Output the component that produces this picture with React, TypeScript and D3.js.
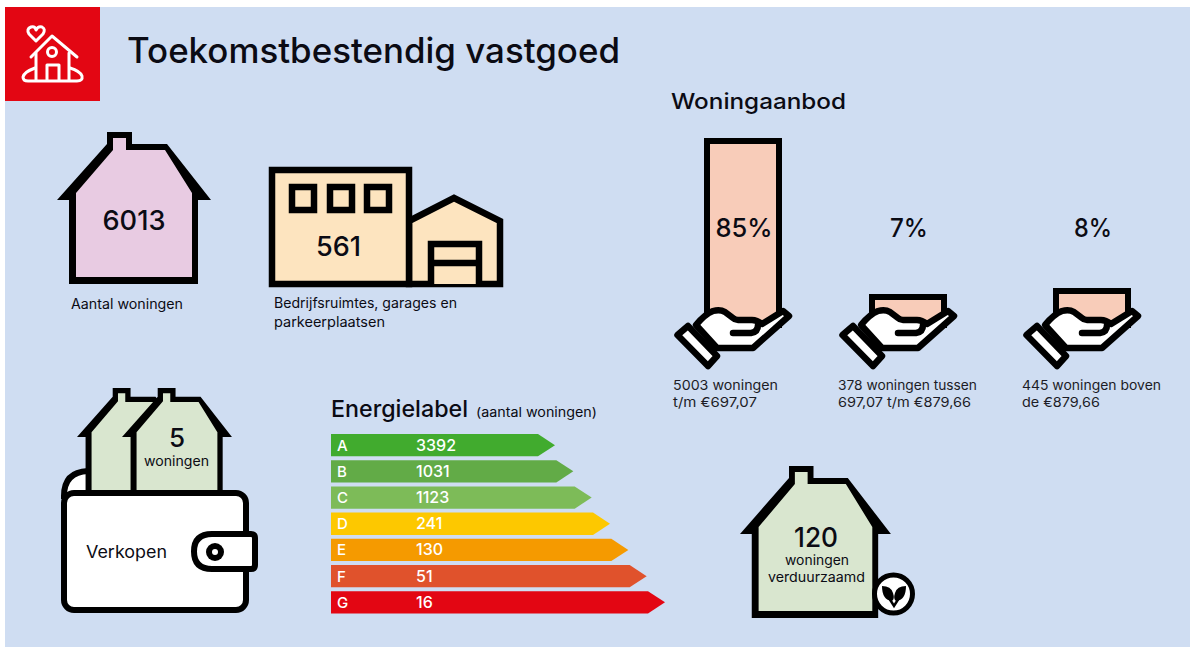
import * as d3 from 'd3';
import React from 'react';

// values
const energyLabels = ['A', 'B', 'C', 'D', 'E', 'F', 'G'];
const energyValues = [3392, 1031, 1123, 241, 130, 51, 16];
const energyColors = ['#41ab2e', '#62ab47', '#7dbb58', '#fdc800', '#f59a00', '#e0522c', '#e30613'];

const aanbodShares = [85, 7, 8];
// the drawn fill height does not quite follow the label for the last one
const aanbodLevels = [85, 7, 10];
const aanbodCaptions = [
  ['5003 woningen', 't/m €697,07'],
  ['378 woningen tussen', '697,07 t/m €879,66'],
  ['445 woningen boven', 'de €879,66'],
];
const captionWidths = [[105, 84], [139, 133], [139, 78]];

const INK = '#0b0b14';
const FONT = 'Inter, sans-serif';

const line = d3.line();
const closed = (pts: [number, number][]) => line(pts) + 'Z';

// house outline and inside, the others are scaled copies of this one
const houseOuter: [number, number][] = [
  [69, 284], [69, 200], [57, 200], [107, 144], [107, 132], [132, 132], [132, 144],
  [167, 144], [211, 200], [198, 200], [198, 284],
];
const houseInner: [number, number][] = [
  [76, 277], [76, 193], [113, 150], [113, 138], [126, 138], [126, 150],
  [165, 150], [192, 193], [192, 277],
];

function House({ x, y, sx, sy, fill, extra = 0 }) {
  const px = d3.scaleLinear().domain([57, 211]).range([x, x + 154 * sx]);
  const py = d3.scaleLinear().domain([132, 284]).range([y, y + 152 * sy]);
  const move = (pts: [number, number][]) => closed(pts.map(([a, b]) => [px(a), py(b)] as [number, number]));
  return (
    <g>
      <path d={move(houseOuter)} fill="#000" />
      <path d={move(houseInner)} fill={fill} stroke={extra ? '#000' : 'none'} strokeWidth={extra} />
    </g>
  );
}

function T({ x, y, size, w, children, fill = INK, weight = 400, anchor = 'start' }: any) {
  return (
    <text x={x} y={y} fontSize={size} fontFamily={FONT} fontWeight={weight} fill={fill} textAnchor={anchor}
      textLength={w} lengthAdjust={w ? 'spacingAndGlyphs' : undefined}>
      {children}
    </text>
  );
}

function Hand({ dx }) {
  return (
    <g transform={`translate(${dx},0)`} stroke="#000" strokeWidth={6.5} fill="#fff" strokeLinejoin="round">
      <path d="M696 325 Q705 314 713 311 Q720 309 725 312 L733 318 Q735 320 738 320 L752 320 Q757 320 762 324 L783 311 L789 316 L753 348 L717 348 Z" />
      <path d="M733 333 L751 333 Q758 332 758 325" fill="none" strokeLinecap="round" />
      <path d="M677.5 335 L688 326 L717 356 L708 366 Z" />
    </g>
  );
}

function EnergyChart() {
  const y = d3.scaleBand().domain(energyLabels).range([434, 613.5]).paddingInner(0.15);
  const tip = d3.scalePoint().domain(energyLabels).range([555, 665]);
  const left = 331;
  const h = y.bandwidth();
  return (
    <g>
      {energyLabels.map((l, i) => {
        const t = y(l);
        const e = tip(l);
        return (
          <g key={l}>
            <path d={closed([[left, t], [e - 17, t], [e, t + h / 2], [e - 17, t + h], [left, t + h]])} fill={energyColors[i]} />
            <T x={left + 6} y={t + h / 2 + 5.5} size={15} fill="#fff" weight={500}>{l}</T>
            <T x={416} y={t + h / 2 + 5.5} size={16} fill="#fff" weight={500}>{energyValues[i]}</T>
          </g>
        );
      })}
    </g>
  );
}

function Aanbod() {
  const x = d3.scaleOrdinal<number, number>().domain([0, 1, 2]).range([707, 872, 1056]);
  const y = d3.scaleLinear().domain([0, 85]).range([311, 141]);
  return (
    <g>
      {aanbodShares.map((s, i) => {
        const top = y(aanbodLevels[i]);
        return (
          <g key={i}>
            <rect x={x(i)} y={top} width={72} height={325 - top} fill="#f8ccb9" stroke="#000" strokeWidth={6} />
            <Hand dx={x(i) - 707} />
          </g>
        );
      })}
      {aanbodShares.map((s, i) => (
        <g key={i}>
          <T x={x(i) + 37} y={237} size={26} anchor="middle" w={i === 0 ? 57 : 38} weight={500}>{s + '%'}</T>
          {aanbodCaptions[i].map((c, j) => (
            <T key={j} x={x(i) - 34} y={390 + j * 17} size={13.5} w={captionWidths[i][j]} fill="#1c1c26">{c}</T>
          ))}
        </g>
      ))}
    </g>
  );
}

export default function App() {
  return (
    <svg width={1190} height={647} style={{ position: 'absolute', left: 0, top: 0, background: '#fff' }}>
      <rect x={5} y={7} width={1185} height={640} fill="#cfddf2" />

      {/* header icon */}
      <rect x={5} y={7} width={95} height={94} fill="#e30613" />
      <g fill="none" stroke="#fff" strokeWidth={3} strokeLinejoin="round" strokeLinecap="round">
        <path d="M36 41 L29 34 Q26 29 31 27 Q35 26 36 30 Q38 26 42 27 Q46 29 43 34 Z" />
        <path d="M31 57 L52 36 L77 57" />
        <path d="M36 53 L36 80 M69 53 L69 80" />
        <circle cx={52} cy={52} r={4.5} />
        <path d="M47 80 L47 65 L59 65 L59 80" />
        <path d="M35 68 Q24 72 23 77 Q23 81 28 81 L77 81 Q83 81 82 76 Q80 71 70 68" />
      </g>

      <T x={127} y={63} size={35} w={493} weight={500}>Toekomstbestendig vastgoed</T>

      {/* woningen */}
      <House x={57} y={132} sx={1} sy={1} fill="#e8cbe2" />
      <T x={134} y={230} size={27} anchor="middle" w={63} weight={500}>6013</T>
      <T x={71} y={309} size={14} w={112}>Aantal woningen</T>

      {/* bedrijfsruimtes */}
      <g stroke="#000" strokeWidth={6.5} fill="#fde4bf">
        <path d={closed([[409, 221], [454, 198], [500, 221], [500, 284], [409, 284]])} />
        <rect x={272} y={170} width={137} height={114} />
        <rect x={292} y={187} width={22} height={23} />
        <rect x={330} y={187} width={22} height={23} />
        <rect x={367} y={187} width={22} height={23} />
        <path d="M431 284 L431 244 L479 244 L479 284 M431 263 L479 263" />
      </g>
      <T x={316} y={256} size={27} w={45} weight={500}>561</T>
      <T x={274} y={308} size={14} w={183}>Bedrijfsruimtes, garages en</T>
      <T x={274} y={327} size={14} w={111}>parkeerplaatsen</T>

      {/* woningaanbod */}
      <T x={671} y={109} size={22} w={175} weight={500}>Woningaanbod</T>
      <Aanbod />

      {/* verkopen */}
      <path d="M64 496 Q64 472 88 471 L110 471 L110 496 Z" fill="#fff" stroke="#000" strokeWidth={6} />
      <House x={77} y={388} sx={0.714} sy={0.72} fill="#d9e6cf" extra={2} />
      <House x={122} y={388} sx={0.714} sy={0.72} fill="#d9e6cf" extra={2} />
      <rect x={64} y={493} width={182} height={117} rx={10} fill="#fff" stroke="#000" strokeWidth={6} />
      <path d="M251 534 Q255 534 255 538 L255 565 Q255 569 251 569 L212 569 Q194 569 194 551.5 Q194 534 212 534 Z" fill="#fff" stroke="#000" strokeWidth={6} />
      <circle cx={215} cy={552} r={9} fill="#000" />
      <circle cx={215} cy={552} r={3} fill="#fff" />
      <T x={177} y={447} size={26} anchor="middle" weight={500}>5</T>
      <T x={144} y={466} size={14} w={65}>woningen</T>
      <T x={86} y={558} size={17} w={81}>Verkopen</T>

      {/* energielabel */}
      <T x={331} y={417} size={23} w={137} weight={500}>Energielabel</T>
      <T x={476} y={417} size={13} w={121}>(aantal woningen)</T>
      <EnergyChart />

      {/* verduurzaamd */}
      <House x={740} y={466} sx={0.98} sy={1} fill="#d9e6cf" />
      <T x={816} y={547} size={27} anchor="middle" w={44} weight={500}>120</T>
      <T x={785} y={565} size={13.5} w={64}>woningen</T>
      <T x={768} y={582} size={13.5} w={97}>verduurzaamd</T>
      <circle cx={893.5} cy={594} r={19} fill="#fff" stroke="#000" strokeWidth={5} />
      <path d="M882 586 Q891 586 893 593 Q895 599 892 601 Q882 600 882 586Z M906 586 Q897 586 895 593 Q893 599 896 601 Q906 600 906 586Z" fill="#000" />
      <path d="M889 598 L894 606 L899 598" fill="none" stroke="#000" strokeWidth={2.5} />
    </svg>
  );
}
